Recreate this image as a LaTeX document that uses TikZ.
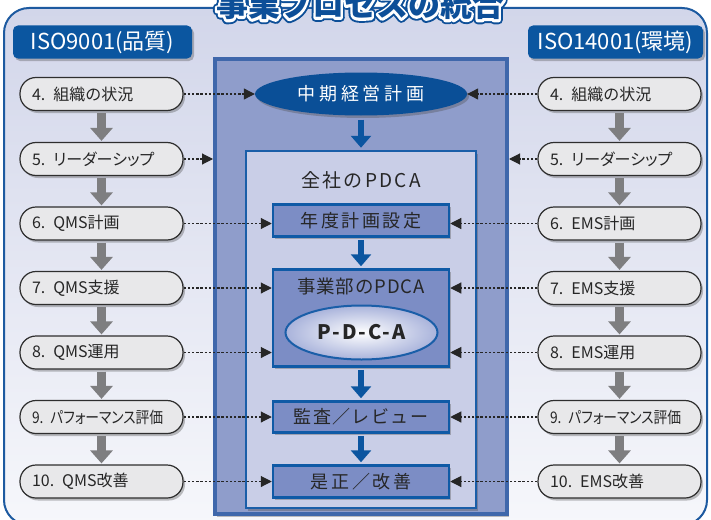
\documentclass[tikz,border=0pt]{standalone}
\usepackage{fontspec}
\usepackage{graphicx}
\setmainfont{Noto Sans CJK JP}
\newfontfamily\jppalt{Noto Sans CJK JP}[RawFeature=+palt]
\usetikzlibrary{arrows.meta,shapes.geometric,shadows,calc}

\definecolor{frline}{HTML}{1D5AA0}
\definecolor{frtop}{HTML}{D2D6EA}
\definecolor{frbot}{HTML}{F6F7FB}
\definecolor{hdrblue}{HTML}{0B56A0}
\definecolor{outerfill}{HTML}{8F9DCB}
\definecolor{outerline}{HTML}{3F67AB}
\definecolor{innerfill}{HTML}{C9CEE7}
\definecolor{innerline}{HTML}{1A5EA8}
\definecolor{subfill}{HTML}{7C8DC5}
\definecolor{subline}{HTML}{0F5AA6}
\definecolor{ellblue}{HTML}{0A4F97}
\definecolor{pdcaout}{HTML}{A9B3DB}
\definecolor{pillfill}{HTML}{E8E8EA}
\definecolor{pillline}{HTML}{2E2E2E}
\definecolor{txt}{HTML}{262626}
\definecolor{garrow}{HTML}{7E7E80}
\definecolor{barrow}{HTML}{0B55A0}
\definecolor{titleblue}{HTML}{0D4F98}

\tikzset{
  myshadow/.style={drop shadow={shadow xshift=2pt,shadow yshift=-2.5pt,opacity=.35,fill=black!70}},
  pill/.style={draw=pillline, line width=1.2pt, fill=pillfill, rounded corners=16pt,
    minimum height=33pt, text width=139pt, inner xsep=12pt, inner ysep=0pt, align=left,
    font=\fontsize{16}{17}\selectfont, text=txt, myshadow},
  hdr/.style={fill=hdrblue, rounded corners=5pt, minimum height=33pt, text=white,
    font=\fontsize{22}{23}\selectfont, inner xsep=4pt, myshadow},
  subbox/.style={draw=subline, line width=2.5pt, fill=subfill, minimum width=176pt,
    inner sep=0pt, text=txt, myshadow},
  ctext/.style={text=txt, inner sep=0pt},
  dotarrow/.style={draw=txt, line width=1.1pt, dash pattern=on 2.4pt off 1.8pt,
    -{Triangle[length=11pt,width=11pt]}},
  grayarrow/.style={draw=garrow, line width=9pt, -{Triangle[length=13pt,width=22pt]},
    shorten <=2pt, shorten >=1pt},
  bluearrow/.style={draw=barrow, line width=6pt, -{Triangle[length=12pt,width=20pt]}},
  titlestyle/.style={anchor=base, inner sep=0pt, font=\fontsize{32}{34}\selectfont\bfseries}
}

\begin{document}
\begin{tikzpicture}[x=1pt,y=-1pt]
\useasboundingbox (0,0) rectangle (711,519);
\clip (0,0) rectangle (711,519);

% frame
\fill[top color=frtop, bottom color=frbot, rounded corners=25pt] (4,8) rectangle (707,525);
\draw[frline, line width=2pt, rounded corners=25pt] (4,8) rectangle (707,525);

% title with outline (stroked copies)
\node[titlestyle, text=titleblue] (titleA) at (360,17) {\special{pdf:literal direct 1 j 1 J}\addfontfeatures{FakeBold=26}事業プロセスの統合};
\node[titlestyle, text=white] (titleB) at (360,17) {\special{pdf:literal direct 1 j 1 J}\addfontfeatures{FakeBold=14}事業プロセスの統合};
\node[titlestyle, text=titleblue] (title) at (360,17) {事業プロセスの統合};

% headers
\node[hdr, minimum width=179pt] (hl) at (102.5,42) {ISO9001(品質)};
\node[hdr, minimum width=175pt] (hr) at (615.5,42) {ISO14001(環境)};

% central boxes
\node[draw=outerline, line width=4pt, fill=outerfill, minimum width=292pt,
      minimum height=455pt, inner sep=0pt, myshadow] (outer) at (361,286.5) {};
\node[draw=innerline, line width=2.5pt, fill=innerfill, minimum width=230pt,
      minimum height=357pt, inner sep=0pt, myshadow] (inner) at (361,329.5) {};

\node[ellipse, fill=ellblue, minimum width=212pt, minimum height=43pt, inner sep=0pt,
      text=white, font=\fontsize{18}{20}\selectfont\addfontfeatures{LetterSpace=22},
      myshadow] (ell) at (361,94) {中期経営計画};

\node[ctext, font=\fontsize{19}{21}\selectfont\addfontfeatures{LetterSpace=12}]
      (ztitle) at (361,180) {全社のPDCA};

\node[subbox, minimum height=32pt, font=\fontsize{18}{20}\selectfont\addfontfeatures{LetterSpace=14}]
      (nendo) at (361,220.5) {年度計画設定};
\node[subbox, minimum height=97pt] (jigyo) at (361,318) {};
\node[ctext, font=\fontsize{18.5}{20}\selectfont\addfontfeatures{LetterSpace=5}]
      (jtitle) at (361,286) {事業部のPDCA};
\node[ellipse, draw=innerline, line width=2pt, inner color=white, outer color=pdcaout,
      minimum width=152pt, minimum height=54pt, inner sep=0pt, text=txt,
      font=\fontsize{20}{22}\selectfont\bfseries\addfontfeatures{LetterSpace=10}]
      (pdca) at (361.5,332.5) {P-D-C-A};
\node[subbox, minimum height=31pt, font=\fontsize{18}{20}\selectfont\addfontfeatures{LetterSpace=8}]
      (kansa) at (361,417) {監査／レビュー};
\node[subbox, minimum height=32pt, font=\fontsize{18}{20}\selectfont\addfontfeatures{LetterSpace=15}]
      (zesei) at (361,481.5) {是正／改善};

% blue arrows
\draw[bluearrow, shorten <=4pt, shorten >=2pt] (ell.south) -- (ell.south |- inner.north);
\draw[bluearrow, shorten <=2pt, shorten >=2pt] (nendo.south) -- (jigyo.north);
\draw[bluearrow, shorten <=2pt, shorten >=2pt] (jigyo.south) -- (kansa.north);
\draw[bluearrow, shorten <=2pt, shorten >=2pt] (kansa.south) -- (zesei.north);

% pills left
\node[pill] (l4) at (101.5,94) {4. 組織の状況};
\node[pill] (l5) at (101.5,159) {5. {\jppalt リーダーシップ}};
\node[pill] (l6) at (101.5,223.5) {6. QMS計画};
\node[pill] (l7) at (101.5,288) {7. QMS支援};
\node[pill] (l8) at (101.5,352.5) {8. QMS運用};
\node[pill] (l9) at (101.5,417) {\scalebox{0.86}[1]{9. {\jppalt パフォーマンス評価}}};
\node[pill] (l10) at (101.5,481.5) {10. QMS改善};

% pills right
\node[pill] (r4) at (619.5,94) {4. 組織の状況};
\node[pill] (r5) at (619.5,159) {5. {\jppalt リーダーシップ}};
\node[pill] (r6) at (619.5,223.5) {6. EMS計画};
\node[pill] (r7) at (619.5,288) {7. EMS支援};
\node[pill] (r8) at (619.5,352.5) {8. EMS運用};
\node[pill] (r9) at (619.5,417) {\scalebox{0.86}[1]{9. {\jppalt パフォーマンス評価}}};
\node[pill] (r10) at (619.5,481.5) {10. EMS改善};

% gray arrows
\foreach \a/\b in {4/5,5/6,6/7,7/8,8/9,9/10}{
  \draw[grayarrow] (l\a.south) -- (l\b.north);
  \draw[grayarrow] (r\a.south) -- (r\b.north);
}

% dotted connectors left
\draw[dotarrow] (l4.east) -- (l4.east -| ell.west);
\draw[dotarrow] (l5.east) -- (l5.east -| outer.west);
\draw[dotarrow] (l6.east) -- (l6.east -| nendo.west);
\draw[dotarrow] (l7.east) -- (l7.east -| jigyo.west);
\draw[dotarrow] (l8.east) -- (l8.east -| jigyo.west);
\draw[dotarrow] (l9.east) -- (l9.east -| kansa.west);
\draw[dotarrow] (l10.east) -- (l10.east -| zesei.west);

% dotted connectors right
\draw[dotarrow] (r4.west) -- (r4.west -| ell.east);
\draw[dotarrow] (r5.west) -- (r5.west -| outer.east);
\draw[dotarrow] (r6.west) -- (r6.west -| nendo.east);
\draw[dotarrow] (r7.west) -- (r7.west -| jigyo.east);
\draw[dotarrow] (r8.west) -- (r8.west -| jigyo.east);
\draw[dotarrow] (r9.west) -- (r9.west -| kansa.east);
\draw[dotarrow] (r10.west) -- (r10.west -| zesei.east);
\end{tikzpicture}
\end{document}
